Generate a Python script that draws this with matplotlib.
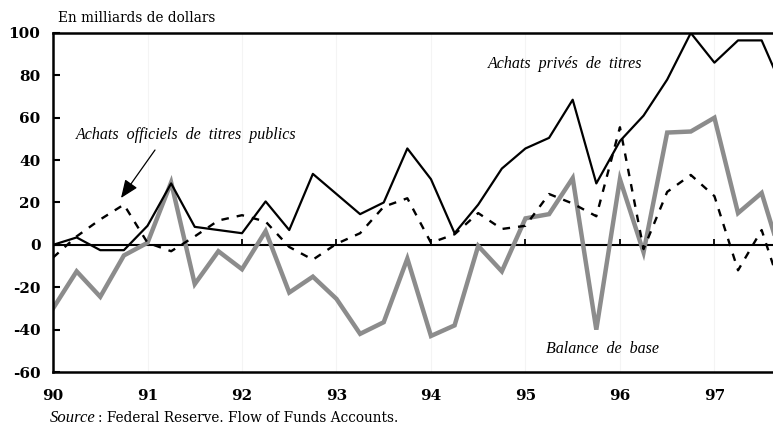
import numpy as np
import matplotlib
matplotlib.use("Agg")
import matplotlib.pyplot as plt

# quarterly data, 1990Q1 .. 1997Q4
quarters = np.arange(32) / 4 + 90

achats_prives = [0, 3.5, -2.5, -2.5, 9, 29, 8.5, 7, 5.5, 20.5, 7, 33.5,
                 24, 14.5, 20, 45.5, 31, 5.5, 19, 36, 45.5, 50.5, 68.5, 29,
                 49, 61, 78, 100, 86, 96.5, 96.5, 71]
achats_officiels = [-6, 4, 12, 19, 1, -3, 4, 11.5, 14, 11, -1, -7,
                    0.5, 5.5, 18, 22, 1, 5, 15, 7.5, 9, 24, 19.5, 13.5,
                    55.5, -2, 25, 33, 23, -12, 7, -27]
balance_base = [-30, -12.5, -24.5, -5, 1, 29.5, -18.5, -3, -11.5, 6.5, -22.5, -15,
                -25.5, -42, -36.5, -6.5, -43, -38, -0.5, -12.5, 12.5, 14.5, 31.5, -40,
                31, -3.5, 53, 53.5, 60, 15, 24.5, -12]

years = [90, 91, 92, 93, 94, 95, 96, 97]
year_labels = ['90', '91', '92', '93', '94', '95', '96', '97']
yticks = [-60, -40, -20, 0, 20, 40, 60, 80, 100]

serif = 'DejaVu Serif'
italic = 'Liberation Serif'


def px(x, y):
    # pixel position -> figure fraction
    return (x / 773, 1 - y / 425)


fig = plt.figure(figsize=(7.73, 4.25), dpi=100)
ax = fig.add_axes([0.0686, 0.1247, 0.9314, 0.7977])

# faint year grid
for yr in years:
    ax.axvline(yr, color='#f4f4f4', lw=0.8, zorder=0)

ax.axhline(0, color='black', lw=1.5, zorder=1)
ax.vlines(years, 0, 2.6, color='black', lw=1.3, zorder=1)

ax.plot(quarters, balance_base, color='#8c8c8c', lw=3.2, solid_joinstyle='miter', zorder=2)
ax.plot(quarters, achats_prives, color='black', lw=1.6, zorder=3)
ax.plot(quarters, achats_officiels, color='black', lw=1.7, dashes=(3.2, 3.4), zorder=4)

ax.set_xlim(90, 97.62)
ax.set_ylim(-60, 100)

ax.spines['right'].set_visible(False)
for s in ['left', 'top', 'bottom']:
    ax.spines[s].set_linewidth(1.8)

ax.set_yticks(yticks)
ax.set_yticklabels([str(v) for v in yticks])
ax.tick_params(axis='y', direction='in', length=5, width=1.5, pad=9)
ax.set_xticks(years)
ax.set_xticklabels(year_labels)
ax.tick_params(axis='x', length=0, pad=12)
for lab in ax.get_xticklabels() + ax.get_yticklabels():
    lab.set_fontfamily(serif)
    lab.set_fontweight('bold')
    lab.set_fontsize(11)

fig.text(*px(58, 18), 'En milliards de dollars', family=serif,
         fontsize=9.8, va='center', ha='left')

fig.text(*px(565, 64), 'Achats  privés  de  titres', family=italic, style='italic',
         fontsize=11.5, ha='center', va='center')
fig.text(*px(186, 135), 'Achats  officiels  de  titres  publics', family=italic, style='italic',
         fontsize=11.5, ha='center', va='center')
fig.text(*px(602, 349), 'Balance  de  base', family=italic, style='italic',
         fontsize=11.5, ha='center', va='center')

ax.annotate('', xy=px(121, 198), xytext=px(155, 150), xycoords='figure fraction',
            textcoords='figure fraction',
            arrowprops=dict(arrowstyle='-|>,head_length=1.1,head_width=0.45',
                            color='black', lw=0.9, shrinkA=0, shrinkB=0))

src = fig.text(*px(50, 418), 'Source', family=italic, style='italic', fontsize=12,
               ha='left', va='center')
fig.canvas.draw()
bb = src.get_window_extent()
fig.text((bb.x1 + 2) / 773, 1 - 418 / 425, ': Federal Reserve. Flow of Funds Accounts.',
         family=serif, fontsize=9.8, ha='left', va='center')

fig.savefig('out.png', dpi=100)
